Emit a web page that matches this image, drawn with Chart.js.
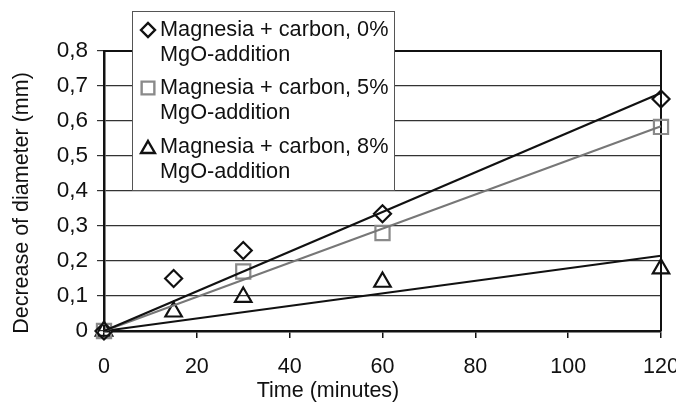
<!DOCTYPE html>
<html>
<head>
<meta charset="utf-8">
<script src="https://cdn.jsdelivr.net/npm/chart.js@4.4.0/dist/chart.umd.min.js"></script>
<style>
  html, body { margin: 0; padding: 0; background: #fff; }
  #wrap { position: relative; width: 691px; height: 407px; overflow: hidden; background: #fff; }
  canvas { position: absolute; left: 0; top: 0; }
</style>
</head>
<body>
<div id="wrap"><canvas id="chart" width="676" height="407"></canvas></div>
<script>
// data
const times = [0, 15, 30, 60, 120];
const mgo0 = [0, 0.15, 0.23, 0.335, 0.663];
const mgo5 = [0, null, 0.17, 0.28, 0.583];
const mgo8 = [0, 0.055, 0.097, 0.14, 0.178];
// linear trend lines (through origin) - value at 120 min
const trendX = [0, 120];
const trend0 = [0, 0.68];
const trend5 = [0, 0.585];
const trend8 = [0, 0.215];
const yTicks = [0, 0.1, 0.2, 0.3, 0.4, 0.5, 0.6, 0.7, 0.8];
const seriesNames = ['Magnesia + carbon, 0%', 'Magnesia + carbon, 5%', 'Magnesia + carbon, 8%'];

const FONT = '"Liberation Sans", Arial, sans-serif';
const GRAY = '#8a8a8a';

function pts(xs, ys) {
    return xs.map((x, i) => ({ x: x, y: ys[i] })).filter(p => p.y !== null);
}

// frame, titles and the legend box
const extras = {
    id: 'extras',
    beforeDatasetsDraw(chart) {
        const { ctx, chartArea: a } = chart;
        ctx.save();
        ctx.strokeStyle = '#111';
        ctx.lineWidth = 2;
        ctx.beginPath();
        ctx.moveTo(a.left, a.top);
        ctx.lineTo(a.right, a.top);
        ctx.lineTo(a.right, a.bottom);
        ctx.stroke();
        ctx.restore();
    },
    afterDraw(chart) {
        const ctx = chart.ctx;
        ctx.save();
        ctx.fillStyle = '#111';
        ctx.font = '21.5px ' + FONT;
        ctx.textAlign = 'center';
        ctx.textBaseline = 'middle';
        ctx.fillText('Time (minutes)', 328, 391);
        ctx.translate(22, 203);
        ctx.rotate(-Math.PI / 2);
        ctx.fillText('Decrease of diameter (mm)', 0, 0);
        ctx.restore();

        // legend
        ctx.save();
        ctx.fillStyle = '#fff';
        ctx.fillRect(132, 11, 262, 179);
        ctx.strokeStyle = '#555';
        ctx.lineWidth = 1;
        ctx.strokeRect(132.5, 11.5, 262, 179);
        const styles = [
            { style: 'rectRot', r: 7, color: '#111' },
            { style: 'rect', r: 9, color: GRAY },
            { style: 'triangle', r: 8, color: '#111' }
        ];
        const rowY = [30, 88, 147];
        ctx.font = '21.7px ' + FONT;
        ctx.textAlign = 'left';
        ctx.textBaseline = 'middle';
        seriesNames.forEach((name, i) => {
            ctx.fillStyle = '#111';
            ctx.fillText(name, 160, rowY[i]);
            ctx.fillText('MgO-addition', 160, rowY[i] + 25);
            ctx.fillStyle = 'rgba(0,0,0,0)';
            ctx.strokeStyle = styles[i].color;
            ctx.lineWidth = 2.4;
            Chart.helpers.drawPoint(ctx, {
                pointStyle: styles[i].style, radius: styles[i].r, rotation: 0, borderWidth: 2.4
            }, 148, rowY[i] + (i === 2 ? 2 : 0));
        });
        ctx.restore();
    }
};

new Chart(document.getElementById('chart'), {
    type: 'scatter',
    data: {
        datasets: [
            { label: 'trend 0%', type: 'line', data: pts(trendX, trend0), borderColor: '#111', borderWidth: 2.2, pointRadius: 0, fill: false, clip: false },
            { label: 'trend 5%', type: 'line', data: pts(trendX, trend5), borderColor: '#777', borderWidth: 2, pointRadius: 0, fill: false, clip: false },
            { label: 'trend 8%', type: 'line', data: pts(trendX, trend8), borderColor: '#111', borderWidth: 2.2, pointRadius: 0, fill: false, clip: false },
            { label: seriesNames[0], data: pts(times, mgo0), pointStyle: 'rectRot', pointRadius: 8.5, borderColor: '#111', backgroundColor: 'rgba(255,255,255,0)', borderWidth: 2.2, clip: false },
            { label: seriesNames[1], data: pts(times, mgo5), pointStyle: 'rect', pointRadius: 10, borderColor: GRAY, backgroundColor: 'rgba(255,255,255,0)', borderWidth: 2.2, clip: false },
            { label: seriesNames[2], data: pts(times, mgo8), pointStyle: 'triangle', pointRadius: 9.5, borderColor: '#111', backgroundColor: 'rgba(255,255,255,0)', borderWidth: 2.2, clip: false }
        ]
    },
    options: {
        responsive: false,
        animation: false,
        layout: { padding: { top: 51, right: 15, bottom: 0, left: 0 } },
        plugins: { legend: { display: false }, tooltip: { enabled: false } },
        scales: {
            x: {
                type: 'linear', min: 0, max: 120,
                afterFit(scale) { scale.height = 76; scale.paddingLeft = 0; scale.paddingRight = 0; },
                ticks: { stepSize: 20, color: '#111', font: { family: FONT, size: 21.5 }, padding: 16, maxRotation: 0 },
                grid: { drawOnChartArea: false, tickLength: 7, color: '#111', lineWidth: 1.5 },
                border: { color: '#111', width: 2.5 }
            },
            y: {
                min: 0, max: 0.8,
                afterFit(scale) { scale.width = 104; },
                afterBuildTicks(scale) { scale.ticks = yTicks.map(v => ({ value: v })); },
                ticks: {
                    color: '#111', font: { family: FONT, size: 22.5 }, padding: 9,
                    callback: v => v === 0 ? '0' : v.toFixed(1).replace('.', ',')
                },
                grid: { color: '#333', lineWidth: 1.2, tickLength: 7 },
                border: { color: '#111', width: 2.5 }
            }
        }
    },
    plugins: [extras]
});
</script>
</body>
</html>
